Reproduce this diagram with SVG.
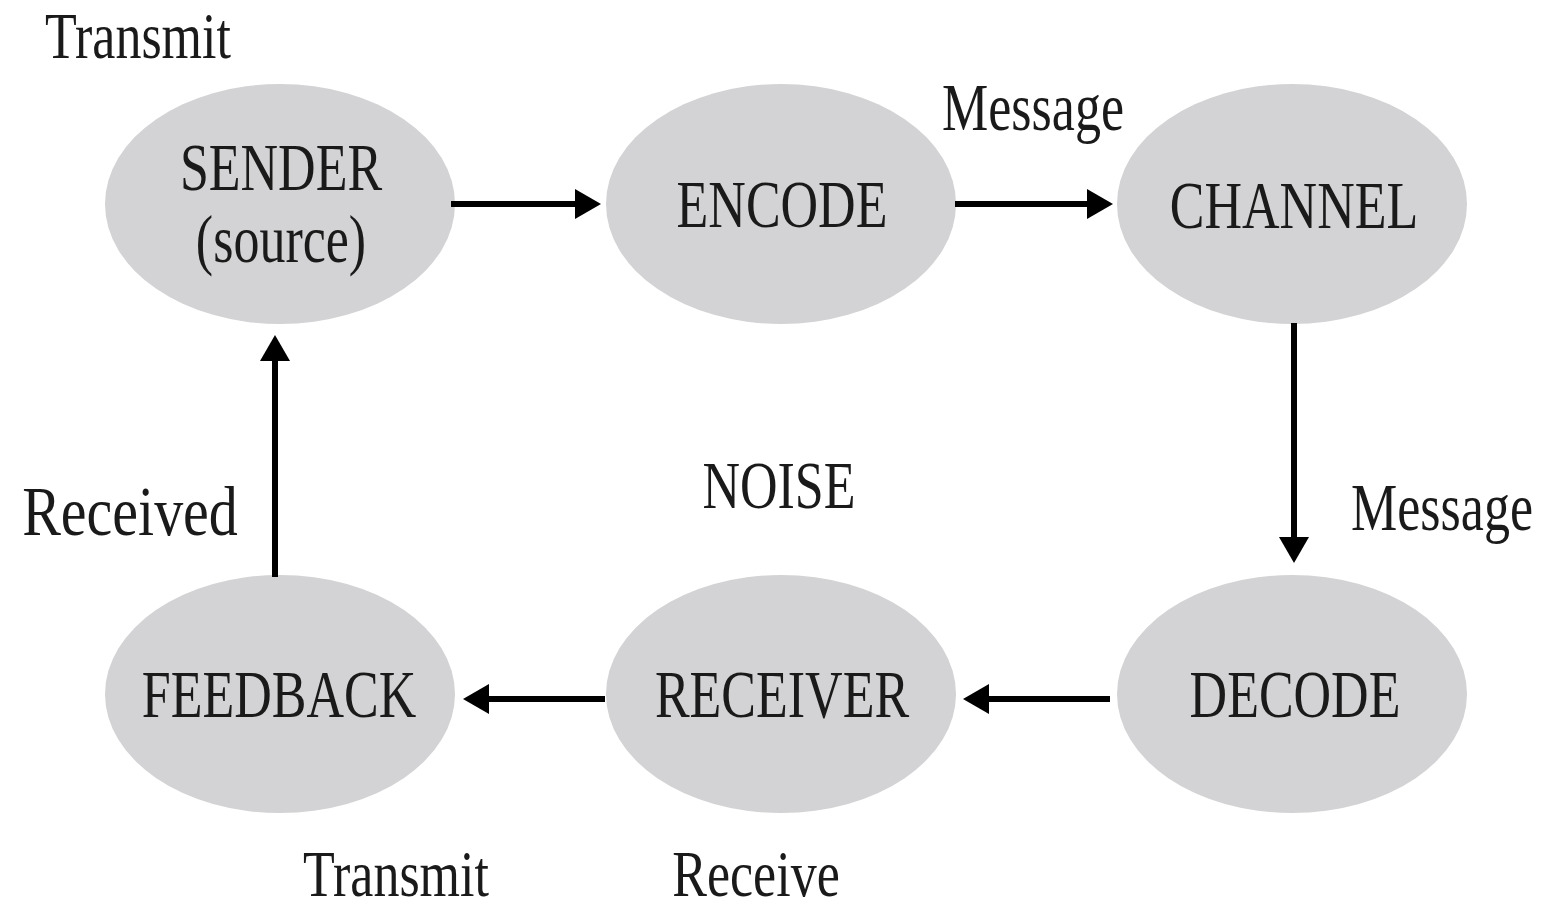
<svg xmlns="http://www.w3.org/2000/svg" width="1553" height="909" viewBox="0 0 1553 909">
<style>
.node{fill:#d3d3d5;}
text{font-family:"Liberation Serif","Times New Roman",serif;fill:#1a1a1a;font-size:52px;}
.c{text-anchor:middle;}
.conn{stroke:#000;stroke-width:6;fill:none;marker-end:url(#ah);}
</style>
<defs>
<marker id="ah" viewBox="0 0 26 30" markerWidth="26" markerHeight="30" refX="0" refY="15" orient="auto" markerUnits="userSpaceOnUse">
<path d="M0,0 L26,15 L0,30 Z" fill="#000"/>
</marker>
</defs>
<rect width="1553" height="909" fill="#fff"/>
<g id="sender"><ellipse class="node" cx="280" cy="204" rx="175" ry="120"/>
<text class="c" transform="matrix(1,0,0,1.3,281,190)">SENDER</text>
<text class="c" transform="matrix(1,0,0,1.3,281,262)">(source)</text></g>
<g id="encode"><ellipse class="node" cx="781" cy="204" rx="175" ry="120"/>
<text class="c" transform="matrix(1,0,0,1.3,782,227)">ENCODE</text></g>
<g id="channel"><ellipse class="node" cx="1292" cy="204" rx="175" ry="120"/>
<text class="c" transform="matrix(1,0,0,1.3,1294,228)">CHANNEL</text></g>
<g id="feedback"><ellipse class="node" cx="280" cy="694" rx="175" ry="119"/>
<text class="c" transform="matrix(1,0,0,1.3,279,717)">FEEDBACK</text></g>
<g id="receiver"><ellipse class="node" cx="781" cy="694" rx="175" ry="119"/>
<text class="c" transform="matrix(1,0,0,1.3,782,717)">RECEIVER</text></g>
<g id="decode"><ellipse class="node" cx="1292" cy="694" rx="175" ry="119"/>
<text class="c" transform="matrix(1,0,0,1.3,1295,717)">DECODE</text></g>
<g id="connectors">
<line class="conn" x1="451" y1="204" x2="575" y2="204"/>
<line class="conn" x1="955" y1="204" x2="1087" y2="204"/>
<line class="conn" x1="1294" y1="323" x2="1294" y2="537"/>
<line class="conn" x1="1110" y1="699" x2="989" y2="699"/>
<line class="conn" x1="605" y1="699" x2="489" y2="699"/>
<line class="conn" x1="275" y1="577" x2="275" y2="361"/>
</g>
<g id="labels">
<text class="c" transform="matrix(1,0,0,1.25,138,58)">Transmit</text>
<text class="c" transform="matrix(1,0,0,1.3,1033,130)">Message</text>
<text class="c" transform="matrix(1,0,0,1.3,779,508)">NOISE</text>
<text class="c" transform="matrix(1,0,0,1.3,1442,530)">Message</text>
<text class="c" style="font-size:58px" transform="matrix(1,0,0,1.2,130,535)">Received</text>
<text class="c" transform="matrix(1,0,0,1.25,396,896)">Transmit</text>
<text class="c" transform="matrix(1,0,0,1.25,756,896)">Receive</text>
</g>
</svg>
